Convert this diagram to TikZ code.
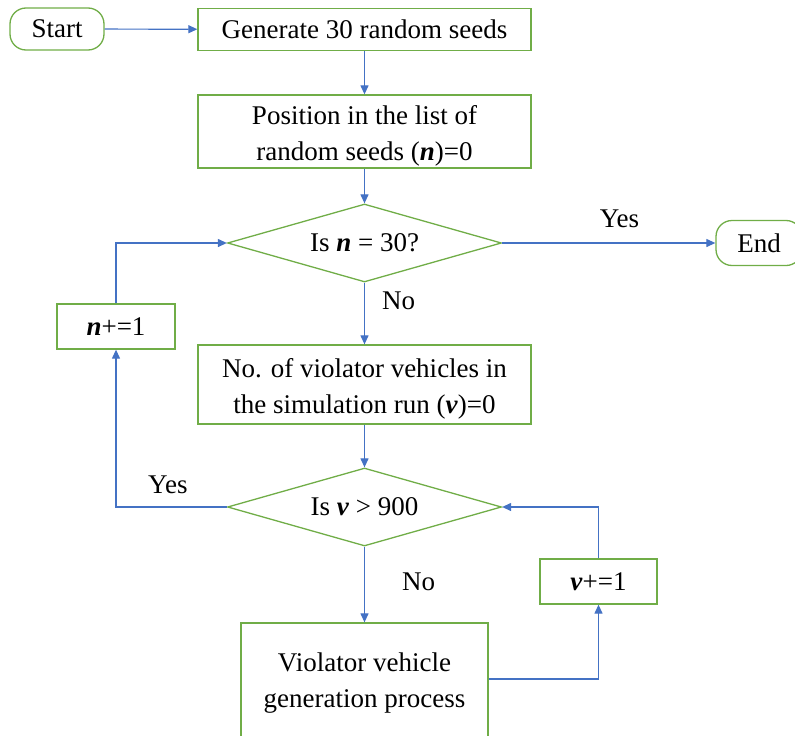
\documentclass[tikz,border=0pt]{standalone}
\usepackage{fontspec}
\setmainfont{Liberation Serif}
\usetikzlibrary{shapes.geometric,arrows.meta}
\definecolor{boxgreen}{RGB}{112,173,71}
\definecolor{flowblue}{RGB}{68,114,196}
\newcommand{\bi}[1]{\textbf{\textit{#1}}}
% invisible strut that lowers the text block inside two-line boxes
\newcommand{\lift}[1]{\rule{0pt}{#1}}
\begin{document}
\begin{tikzpicture}[x=1pt,y=-1pt,
  font=\fontsize{27}{36}\selectfont,
  every node/.style={inner sep=0pt, align=center},
  procbox/.style={draw=boxgreen, line width=1.3pt, rectangle},
  termbox/.style={draw=boxgreen, line width=1.3pt, rectangle, rounded corners=16pt},
  decbox/.style={draw=boxgreen, line width=1.3pt, diamond, shape aspect=3.5,
    minimum width=274pt, minimum height=78pt},
  flow/.style={draw=flowblue, line width=1.2pt, -{Triangle[length=9pt,width=8pt]}},
  lbl/.style={inner sep=0pt}
]
\useasboundingbox (0,0) rectangle (795,736);

% terminal nodes
\node[termbox, minimum width=94pt, minimum height=42pt] (start) at (57,29) {Start};
\node[termbox, minimum width=86pt, minimum height=45pt] (end) at (759,243) {End};

% process boxes
\node[procbox, minimum width=333pt, minimum height=42pt] (gen) at (364.5,29.5) {Generate 30 random seeds};
\node[procbox, minimum width=333pt, minimum height=73pt] (pos) at (364.5,131.5) {\lift{28.5pt}Position in the list of\\random seeds (\bi{n})=0};
\node[procbox, minimum width=333pt, minimum height=79pt] (viol) at (364.5,384.5) {\lift{28.5pt}No. of violator vehicles in\\the simulation run (\bi{v})=0};
\node[procbox, minimum width=118pt, minimum height=45pt] (ninc) at (116,326.5) {\bi{n}+=1};
\node[procbox, minimum width=117pt, minimum height=45pt] (vinc) at (598.5,581.5) {\bi{v}+=1};
\node[procbox, minimum width=247pt, minimum height=116pt] (proc) at (364.5,681) {\lift{23pt}Violator vehicle\\generation process};

% decisions
\node[decbox] (dn) at (364.5,243) {Is \bi{n} = 30?};
\node[decbox] (dv) at (364.5,507) {Is \bi{v} > 900};

% connectors
\draw[flow] (start) -- (gen);
\draw[flow] (gen) -- (pos);
\draw[flow] (pos) -- (dn);
\draw[flow] (dn) -- node[lbl, above=15pt, pos=0.55] {Yes} (end);
\draw[flow] (dn) -- node[lbl, pos=0.3, right=17pt] {No} (viol);
\draw[flow] (ninc.north) |- (dn.west);
\draw[flow] (dv.west) -| node[lbl, pos=0.266, above=13pt] {Yes} (ninc.south);
\draw[flow] (viol) -- (dv);
\draw[flow] (dv) -- node[lbl, pos=0.47, right=37pt] {No} (proc);
\draw[flow] (proc.east |- 0,679) -| (vinc.south);
\draw[flow] (vinc.north) |- (dv.east);
\end{tikzpicture}
\end{document}
